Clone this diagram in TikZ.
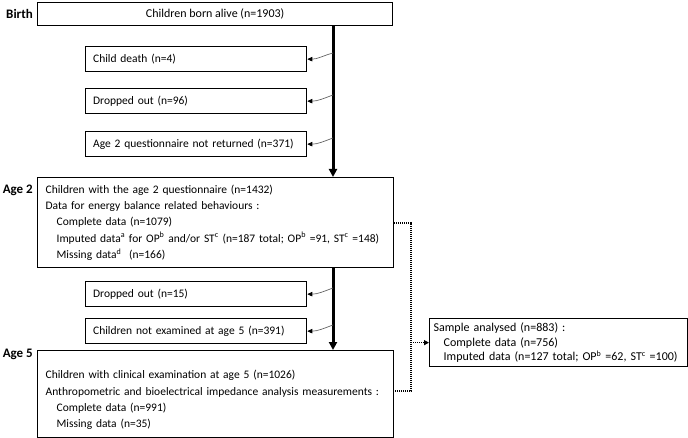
\documentclass[tikz,border=0pt]{standalone}
\usepackage{fontspec}
\setmainfont{Carlito}
\usetikzlibrary{arrows.meta}
\begin{document}
\begin{tikzpicture}[x=1pt,y=-1pt,
  txt/.style={font=\fontsize{11.5}{16.3}\selectfont},
  box/.style={txt, draw, line width=1.3pt, anchor=north west, inner ysep=0pt},
  wide/.style={box, minimum width=356pt, text width=340pt, inner xsep=8pt, align=left},
  small/.style={box, minimum width=221pt, minimum height=25pt, text width=206pt, inner xsep=7.5pt, align=left},
  lab/.style={font=\fontsize{13}{15}\selectfont\bfseries, anchor=east, inner sep=0pt},
  mainline/.style={line width=3pt, -{Triangle[length=8pt,width=8pt]}},
  side/.style={draw=gray!80!black, line width=0.7pt, -{Triangle[length=5pt,width=4.5pt,color=black]}},
  dots/.style={line width=1.2pt, dash pattern=on 1pt off 1pt},
]
\useasboundingbox (0,0) rectangle (688,438);
\def\ind{\hspace*{11pt}}
% boxes
\node[box, minimum width=355pt, minimum height=23pt, font=\fontsize{12}{14}\selectfont] (birth) at (37,2) {Children born alive (n=1903)};
\node[small] (death) at (85,46) {Child death (n=4)};
\node[small] (drop1) at (85,88) {Dropped out (n=96)};
\node[small] (noret) at (85,131) {Age 2 questionnaire not returned (n=371)};
\node[wide, minimum height=90pt] (a2) at (37,177) {Children with the age 2 questionnaire (n=1432)\\
Data for energy balance related behaviours :\\
\ind Complete data (n=1079)\\
\ind Imputed data\textsuperscript{a} for OP\textsuperscript{b} and/or ST\textsuperscript{c} (n=187 total; OP\textsuperscript{b} =91, ST\textsuperscript{c} =148)\\
\ind Missing data\textsuperscript{d}\ \ (n=166)};
\node[small] (drop2) at (85,281) {Dropped out (n=15)};
\node[small] (notex) at (85,318) {Children not examined at age 5 (n=391)};
\node[wide, minimum height=87pt] (a5) at (37,350) {\rule{0pt}{20pt}Children with clinical examination at age 5 (n=1026)\\
Anthropometric and bioelectrical impedance analysis measurements :\\
\ind Complete data (n=991)\\
\ind Missing data (n=35)};
\node[box, minimum width=258pt, minimum height=48pt, text width=250pt, inner xsep=4pt, align=left, font=\fontsize{12}{14.3}\selectfont] (samp) at (429,318) {Sample analysed (n=883) :\\
\hspace*{10pt}Complete data (n=756)\\
\hspace*{10pt}Imputed data (n=127 total; OP\textsuperscript{b} =62, ST\textsuperscript{c} =100)};
% stage labels
\node[lab] (lb) at (33,14) {Birth};
\node[lab] (l2) at (33,190) {Age 2};
\node[lab] (l5) at (33,354) {Age 5};
% main flow
\coordinate (m) at (333,0);
\draw[mainline] (birth.south -| m) -- (a2.north -| m);
\draw[mainline] (a2.south -| m) -- (a5.north -| m);
% side exits
\coordinate (c1) at (333,53);
\coordinate (c2) at (333,95);
\coordinate (c3) at (333,138);
\coordinate (c4) at (333,288);
\coordinate (c5) at (333,325);
\draw[side] (c1) to[out=195,in=0] (death.east);
\draw[side] (c2) to[out=200,in=0] (drop1.east);
\draw[side] (c3) to[out=200,in=0] (noret.east);
\draw[side] (c4) to[out=200,in=0] (drop2.east);
\draw[side] (c5) to[out=200,in=0] (notex.east);
% dotted link
\coordinate (d1) at (411,223);
\coordinate (d2) at (411,391);
\draw[dots] (a2.east |- d1) -- (d1) -- (d2) -- (a5.east |- d2);
\draw[dots, -{Triangle[length=5pt,width=5pt]}] (d1 |- samp.west) -- (samp.west);
\end{tikzpicture}
\end{document}
